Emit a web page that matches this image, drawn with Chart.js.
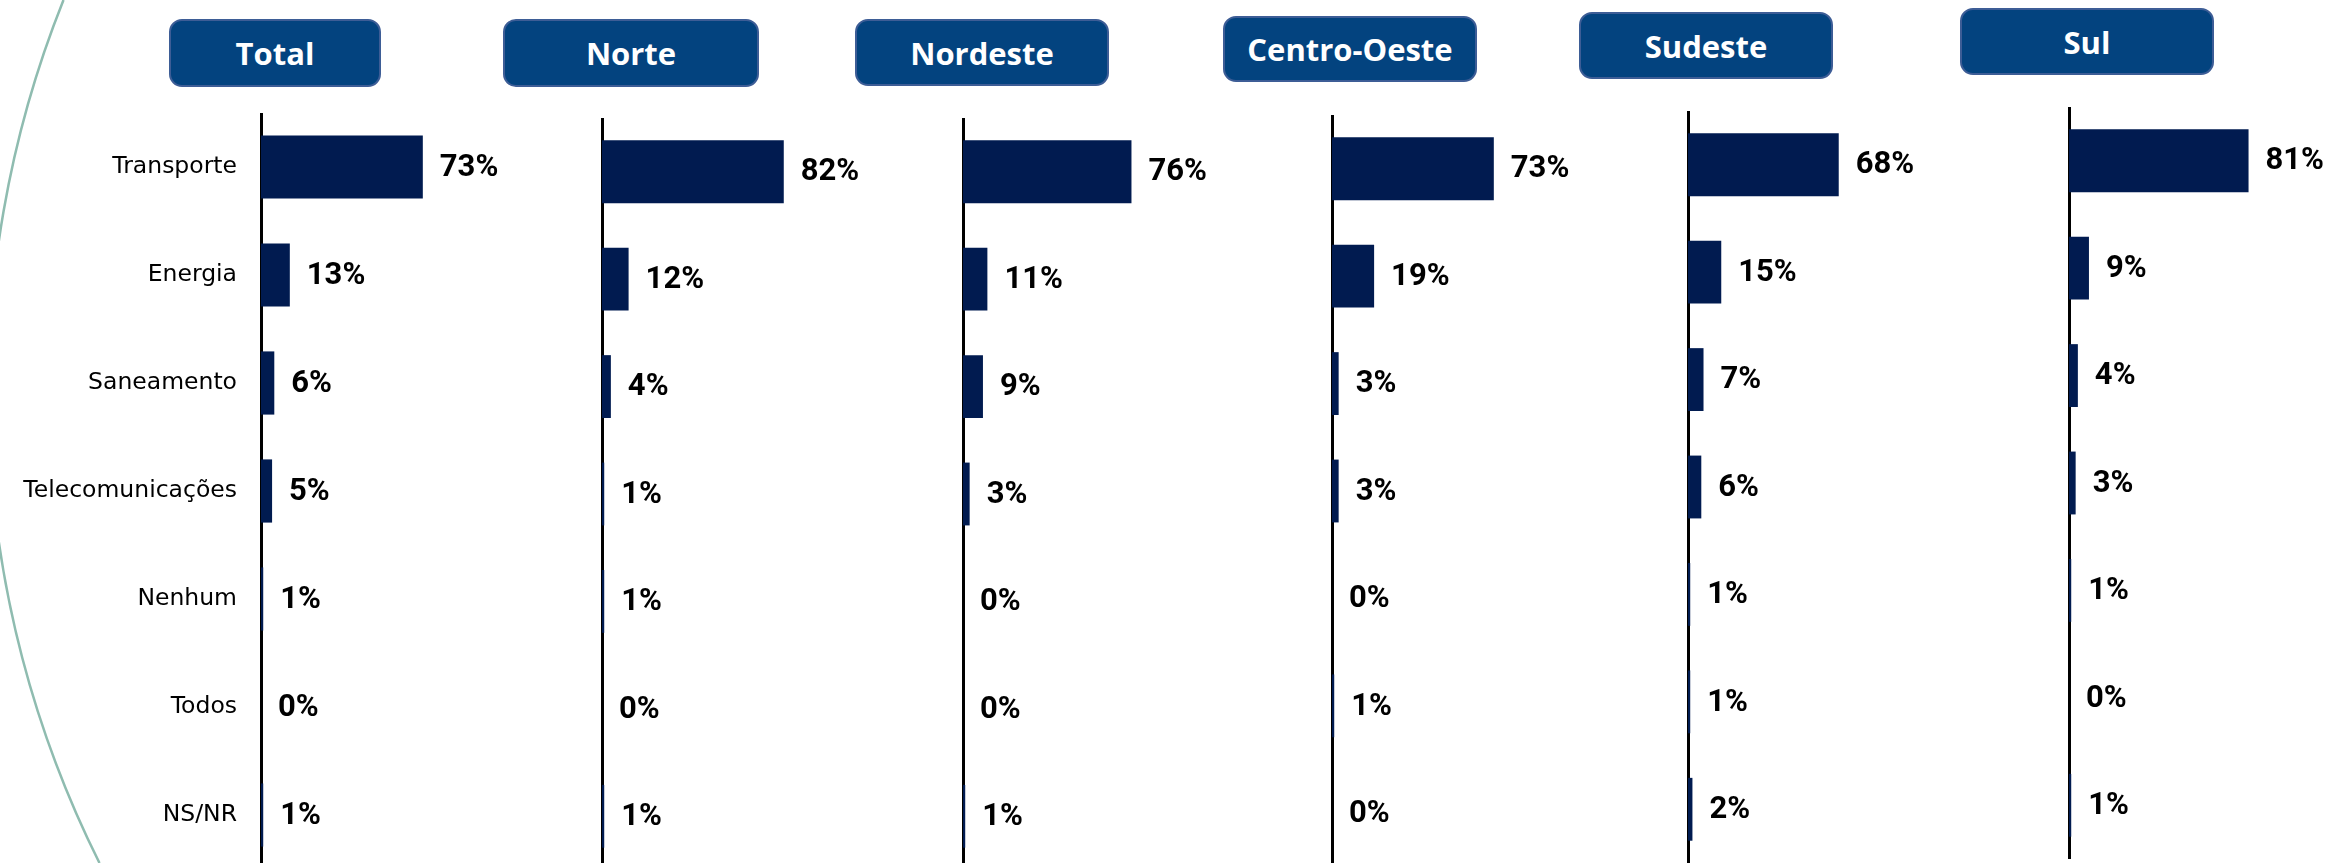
<!DOCTYPE html>
<html>
<head>
<meta charset="utf-8">
<script src="https://cdn.jsdelivr.net/npm/chart.js@4.4.1/dist/chart.umd.min.js"></script>
<style>
html,body{margin:0;padding:0;width:2330px;height:863px;overflow:hidden;background:#fff;}
.hdr{position:absolute;box-sizing:border-box;background:#03437f;border:2px solid #3d5d96;border-radius:13px;color:#fff;font-family:"Open Sans",sans-serif;font-weight:700;font-size:31px;display:flex;align-items:center;justify-content:center;}
canvas{position:absolute;}
svg{position:absolute;left:0;top:0;}
</style>
</head>
<body>
<svg width="2330" height="863"><path d="M 63.5 0 A 1053 1053 0 0 0 99.5 863" fill="none" stroke="#8fbcb0" stroke-width="2.5"/></svg>
<div id="root"></div>
<script>
// ---- data ----
const categories = ['Transporte','Energia','Saneamento','Telecomunicações','Nenhum','Todos','NS/NR'];
const regions = ['Total','Norte','Nordeste','Centro-Oeste','Sudeste','Sul'];
const totalValues       = [73, 13, 6, 5, 1, 0, 1];
const norteValues       = [82, 12, 4, 1, 1, 0, 1];
const nordesteValues    = [76, 11, 9, 3, 0, 0, 1];
const centroOesteValues = [73, 19, 3, 3, 0, 1, 0];
const sudesteValues     = [68, 15, 7, 6, 1, 1, 2];
const sulValues         = [81, 9, 4, 3, 1, 0, 1];
const seriesValues = [totalValues, norteValues, nordesteValues, centroOesteValues, sudesteValues, sulValues];

// ---- layout (positions only) ----
const axisX   = [261, 602, 963, 1332, 1688, 2069];
const plotTop = [113, 118, 118, 115, 111, 107];
const bandH   = [108, 107.4, 107.4, 107.4, 107.4, 107.4];
const headers = [[169,19,212,68],[503,19,256,68],[855,19,254,67],[1223,16,254,66],[1579,12,254,67],[1960,8,254,67]];
const X_MAX = 120;
const PLOT_W = 266;
const BAR_COLOR = '#011b50';

const valueLabels = {
  id: 'valueLabels',
  afterDatasetsDraw(chart) {
    const ctx = chart.ctx;
    const meta = chart.getDatasetMeta(0);
    const data = chart.data.datasets[0].data;
    ctx.save();
    ctx.font = 'bold 31px Roboto, "DejaVu Sans", sans-serif';
    ctx.fillStyle = '#000';
    ctx.textAlign = 'left';
    ctx.textBaseline = 'middle';
    meta.data.forEach((el, i) => {
      ctx.fillText(data[i] + '%', el.x + 17, el.y + 1);
    });
    ctx.restore();
  }
};

const root = document.getElementById('root');
regions.forEach((name, p) => {
  const h = headers[p];
  const d = document.createElement('div');
  d.className = 'hdr';
  d.style.left = h[0] + 'px'; d.style.top = h[1] + 'px';
  d.style.width = h[2] + 'px'; d.style.height = h[3] + 'px';
  d.textContent = name;
  root.appendChild(d);

  const showLabels = p === 0;
  const yw = showLabels ? axisX[p] : 20;
  const cv = document.createElement('canvas');
  const W = yw + PLOT_W;
  const H = Math.round(bandH[p] * categories.length);
  cv.width = W; cv.height = H;
  cv.style.width = W + 'px'; cv.style.height = H + 'px';
  cv.style.left = (axisX[p] - yw) + 'px';
  cv.style.top = plotTop[p] + 'px';
  root.appendChild(cv);

  new Chart(cv, {
    type: 'bar',
    data: {
      labels: categories,
      datasets: [{
        data: seriesValues[p],
        backgroundColor: BAR_COLOR,
        borderWidth: 0,
        barPercentage: 0.585,
        categoryPercentage: 1
      }]
    },
    options: {
      indexAxis: 'y',
      responsive: false,
      animation: false,
      devicePixelRatio: 1,
      layout: { padding: 0 },
      plugins: { legend: { display: false }, tooltip: { enabled: false }, title: { display: false } },
      scales: {
        x: { display: false, min: 0, max: X_MAX },
        y: {
          z: 1,
          grid: { display: false, drawTicks: false },
          border: { display: true, color: '#000', width: 3 },
          ticks: {
            display: showLabels,
            autoSkip: false,
            padding: 24,
            color: '#000',
            font: { family: '"DejaVu Sans", sans-serif', size: 23.5 }
          },
          afterFit(scale) {
            scale.width = yw;
            scale.paddingTop = 0;
            scale.paddingBottom = 0;
          }
        }
      }
    },
    plugins: [valueLabels]
  });
});
</script>
</body>
</html>
